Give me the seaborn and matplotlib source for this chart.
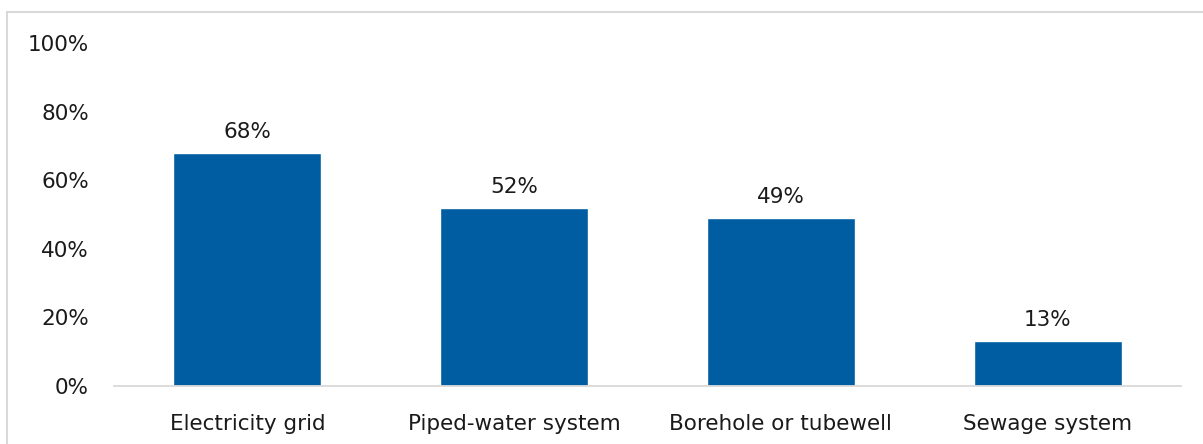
import matplotlib
matplotlib.use("Agg")
import matplotlib.pyplot as plt
import seaborn as sns
import pandas as pd
from matplotlib.lines import Line2D
from matplotlib.ticker import FuncFormatter

categories = ["Electricity grid", "Piped-water system", "Borehole or tubewell", "Sewage system"]
shares = [68, 52, 49, 13]
y_ticks = [0, 20, 40, 60, 80, 100]

df = pd.DataFrame({"category": categories, "share": shares})

sns.set_theme(style="white")
plt.rcParams["font.family"] = ["DejaVu Sans"]

W, H = 1203, 444
fig = plt.figure(figsize=(W / 100, H / 100), dpi=100)
ax = fig.add_axes([114 / W, 1 - 386 / H, (1181 - 114) / W, (386 - 43) / H])

bar_color = "#005DA1"
sns.barplot(data=df, x="category", y="share", color=bar_color, width=0.555,
            saturation=1, ax=ax)

ax.set_ylim(0, 100)
ax.set_xlim(-0.5, len(categories) - 0.5)
ax.set_yticks(y_ticks)
ax.yaxis.set_major_formatter(FuncFormatter(lambda v, _: f"{v:.0f}%"))
ax.set_xlabel("")
ax.set_ylabel("")
ax.tick_params(axis="both", length=0, labelsize=15.5, colors="#1a1a1a")
ax.tick_params(axis="y", pad=18)
ax.tick_params(axis="x", pad=20)

for side in ["top", "right", "left"]:
    ax.spines[side].set_visible(False)
ax.spines["bottom"].set_color("#d9d9d9")
ax.spines["bottom"].set_linewidth(1.3)

for container in ax.containers:
    ax.bar_label(container, labels=[f"{v}%" for v in shares], padding=8,
                 fontsize=15.5, color="#1a1a1a")

# light frame around the chart area
frame_color = "#d9d9d9"
fig.add_artist(Line2D([7 / W, 7 / W], [0, 1 - 12 / H], color=frame_color, lw=1.5,
                      transform=fig.transFigure))
fig.add_artist(Line2D([7 / W, 1], [1 - 12 / H, 1 - 12 / H], color=frame_color, lw=1.5,
                      transform=fig.transFigure))

fig.savefig("out.png", dpi=100, facecolor="white")
